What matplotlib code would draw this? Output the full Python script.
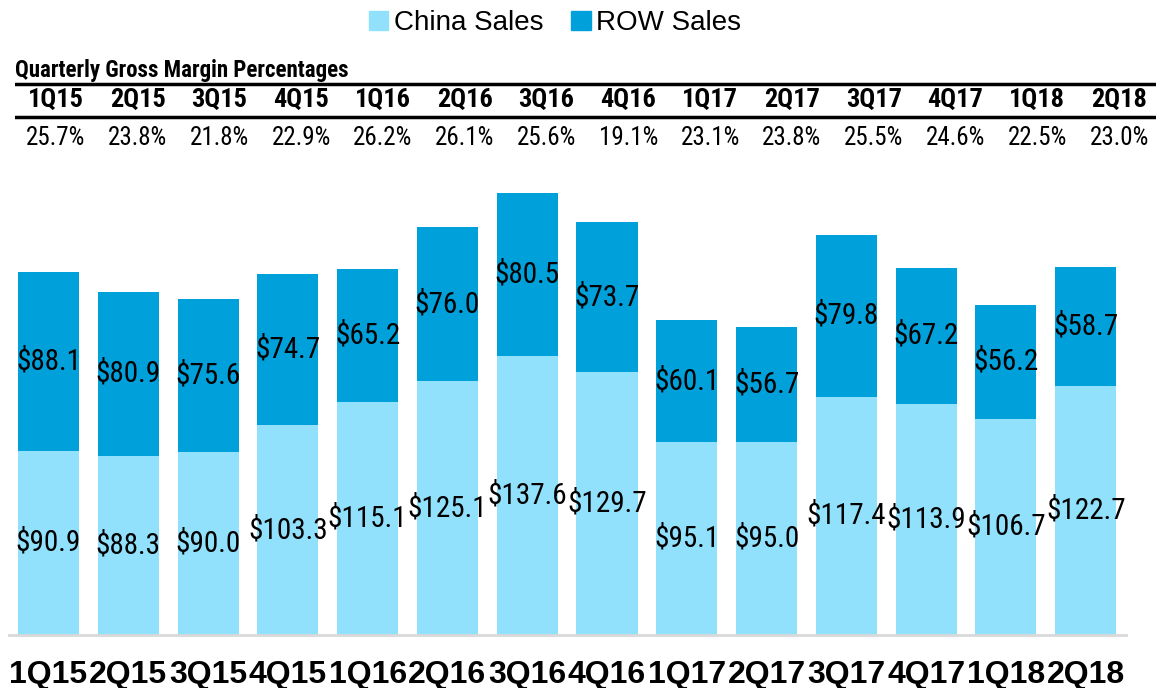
import matplotlib
matplotlib.use("Agg")
import matplotlib.pyplot as plt
from matplotlib import font_manager as fm
from matplotlib.patches import Patch

quarters = ['1Q15', '2Q15', '3Q15', '4Q15', '1Q16', '2Q16', '3Q16', '4Q16',
            '1Q17', '2Q17', '3Q17', '4Q17', '1Q18', '2Q18']
china = [90.9, 88.3, 90.0, 103.3, 115.1, 125.1, 137.6, 129.7,
         95.1, 95.0, 117.4, 113.9, 106.7, 122.7]
row = [88.1, 80.9, 75.6, 74.7, 65.2, 76.0, 80.5, 73.7,
       60.1, 56.7, 79.8, 67.2, 56.2, 58.7]
margins = ['25.7%', '23.8%', '21.8%', '22.9%', '26.2%', '26.1%', '25.6%',
           '19.1%', '23.1%', '23.8%', '25.5%', '24.6%', '22.5%', '23.0%']

c_china = '#91E1FC'
c_row = '#00A0DA'


def pick(names):
    for n in names:
        try:
            fm.findfont(fm.FontProperties(family=n), fallback_to_default=False)
            return n
        except ValueError:
            pass
    return 'DejaVu Sans'


narrow = pick(['Liberation Sans Narrow', 'Roboto Condensed', 'Open Sans Condensed',
               'DejaVu Sans Condensed'])
arial = pick(['Liberation Sans', 'Arial'])

W, H = 1156, 688
fig = plt.figure(figsize=(W / 100, H / 100), dpi=100)

# main bars
ax = fig.add_axes([8.6 / W, (H - 635) / H, 1117 / W, 475 / H])
x = list(range(len(quarters)))
ax.bar(x, china, width=0.765, color=c_china)
ax.bar(x, row, width=0.765, bottom=china, color=c_row)
ax.set_xlim(-0.5, 13.5)
ax.set_ylim(0, 234.2)
for i in x:
    ax.text(i, china[i] / 2, '$%.1f' % china[i], ha='center', va='center',
            family=narrow, fontsize=21)
    ax.text(i, china[i] + row[i] / 2, '$%.1f' % row[i], ha='center', va='center',
            family=narrow, fontsize=21)
for s in ['top', 'right', 'left']:
    ax.spines[s].set_visible(False)
ax.spines['bottom'].set_color('#D9D9D9')
ax.spines['bottom'].set_linewidth(2)
ax.set_yticks([])
ax.set_xticks(x)
ax.set_xticklabels(quarters, family=arial, fontweight='bold', fontsize=23)
ax.tick_params(axis='x', length=0, pad=18)

# margin table
tab = fig.add_axes([15 / W, 0, 1145 / W, 1])
tab.set_xlim(-0.5, 13.5)
tab.set_ylim(H, 0)
tab.axis('off')
tab.text(-0.5, 77, 'Quarterly Gross Margin Percentages', ha='left', va='baseline',
         family=narrow, fontweight='bold', fontsize=16.5)
tab.axhline(84, color='black', lw=2.5)
tab.axhline(117, color='black', lw=2.5)
for i in x:
    tab.text(i, 100, quarters[i], ha='center', va='center', family=narrow,
             fontweight='bold', fontsize=19)
    tab.text(i, 138, margins[i], ha='center', va='center', family=narrow,
             fontsize=18)

handles = [Patch(color=c_china, label='China Sales'),
           Patch(color=c_row, label='ROW Sales')]
fig.legend(handles=handles, loc='center', bbox_to_anchor=(555 / W, 1 - 23 / H),
           ncol=2, frameon=False, prop={'family': arial, 'size': 20},
           handlelength=0.7, handleheight=0.7, handletextpad=0.2, columnspacing=1.0)

fig.savefig('out.png', dpi=100)
